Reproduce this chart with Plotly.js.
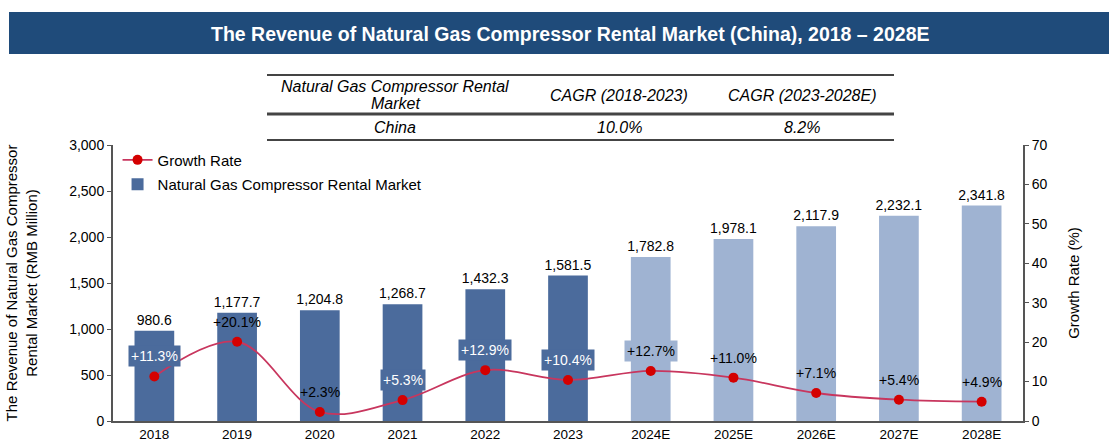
<!DOCTYPE html>
<html>
<head>
<meta charset="utf-8">
<script src="https://cdn.plot.ly/plotly-3.0.1.min.js"></script>
<style>html,body{margin:0;padding:0;background:#fff;}#chart{width:1109px;height:442px;}</style>
</head>
<body>
<div id="chart"></div>
<script>
// ---- data ----
const years = ['2018','2019','2020','2021','2022','2023','2024E','2025E','2026E','2027E','2028E'];
const revenue = [980.6, 1177.7, 1204.8, 1268.7, 1432.3, 1581.5, 1782.8, 1978.1, 2117.9, 2232.1, 2341.8];
const growth = [11.3, 20.1, 2.3, 5.3, 12.9, 10.4, 12.7, 11.0, 7.1, 5.4, 4.9];
const tableHeaderLine1 = ['Natural Gas Compressor Rental', 'CAGR (2018-2023)', 'CAGR (2023-2028E)'];
const tableHeaderLine2 = ['Market', '', ''];
const tableRow = ['China', '10.0%', '8.2%'];

// ---- style ----
const actualCount = 6;
const darkBar = '#4b6b9c', lightBar = '#9fb3d2';
const boxed = {'2018':darkBar,'2021':darkBar,'2022':darkBar,'2023':darkBar,'2024E':lightBar};
const font = 'Arial, "Liberation Sans", sans-serif';
const L=113, R=1023, T=145, B=421;
const px = x => (x-L)/(R-L);
const py = y => (B-y)/(B-T);

const barColors = years.map((y,i)=> i<actualCount ? darkBar : lightBar);
const idx = years.map((y,i)=>i);

const traces = [
  {
    type:'scatter', mode:'lines+markers', name:'Growth Rate', legendgroup:'g1',
    x: idx, y: growth, yaxis:'y2',
    line:{color:'#c8365e', width:1.8, shape:'spline', smoothing:1},
    marker:{color:'#d40000', size:10},
    hoverinfo:'skip'
  },
  {
    type:'bar', name:'Natural Gas Compressor Rental Market', legendgroup:'g2',
    x: idx, y: revenue,
    marker:{color:barColors},
    width:0.48,
    texttemplate:'%{y:,.1f}', textposition:'outside', constraintext:'none',
    textfont:{family:font, size:14, color:'#000'},
    cliponaxis:false,
    hoverinfo:'skip'
  }
];

const annotations = [];
// growth labels
years.forEach((yr,i)=>{
  const bg = boxed[yr];
  annotations.push({
    x: i, y: growth[i], xref:'x', yref:'y2', xanchor:'center', yanchor:'middle',
    text: '+' + growth[i].toFixed(1) + '%',
    showarrow:false, yshift:20,
    font:{family:font, size:14, color: bg===darkBar ? '#fff' : '#000'},
    bgcolor: bg || 'rgba(0,0,0,0)', borderpad:2
  });
});
// title bar text
annotations.push({
  x: px(570), y: py(34), xref:'paper', yref:'paper', xanchor:'center', yanchor:'middle', showarrow:false,
  text:'<b>The Revenue of Natural Gas Compressor Rental Market (China), 2018 – 2028E</b>',
  font:{family:'Arial, "Liberation Sans", sans-serif', size:19.5, color:'#fff'}
});
// table text
const colX = [395, 619, 802];
const tAnn = (x, y, t) => annotations.push({x:px(x), y:py(y), xref:'paper', yref:'paper',
  xanchor:'center', yanchor:'middle', showarrow:false,
  text:'<i>'+t+'</i>', font:{family:font, size:16, color:'#000'}});
tAnn(colX[0], 87, tableHeaderLine1[0]);
tAnn(colX[0], 103, tableHeaderLine2[0]);
tAnn(colX[1], 95, tableHeaderLine1[1]);
tAnn(colX[2], 95, tableHeaderLine1[2]);
tableRow.forEach((t,i)=> tAnn(colX[i], 128, t));

const shapes = [
  {type:'rect', xref:'paper', yref:'paper', x0:px(9), x1:px(1109), y0:py(54), y1:py(12),
   fillcolor:'#1f4b7a', line:{width:0}, layer:'below'},
  {type:'line', xref:'paper', yref:'paper', x0:px(267), x1:px(894), y0:py(75), y1:py(75), line:{color:'#444', width:2}},
  {type:'line', xref:'paper', yref:'paper', x0:px(267), x1:px(894), y0:py(114), y1:py(114), line:{color:'#444', width:3}},
  {type:'line', xref:'paper', yref:'paper', x0:px(267), x1:px(894), y0:py(140), y1:py(140), line:{color:'#444', width:2}}
];

const layout = {
  width:1109, height:442,
  margin:{l:L, r:1109-R, t:T, b:442-B, pad:0},
  paper_bgcolor:'#fff', plot_bgcolor:'#fff',
  showlegend:true,
  legend:{x:0.005, y:1.005, xanchor:'left', yanchor:'top', bgcolor:'rgba(0,0,0,0)',
    font:{family:font, size:15, color:'#000'}, tracegroupgap:2, itemwidth:30},
  xaxis:{type:'linear', range:[-0.5,10.5], tickvals:idx, ticktext:years, showline:true, linecolor:'#555', linewidth:2,
    ticks:'', tickfont:{family:font, size:13.5, color:'#000'}, showgrid:false, zeroline:false, fixedrange:true},
  yaxis:{range:[0,3000], dtick:500, tickformat:',d', showline:true, linecolor:'#555', linewidth:2,
    ticks:'outside', ticklen:4, tickcolor:'#555', tickfont:{family:font, size:14, color:'#000'},
    showgrid:false, zeroline:false,
    title:{text:'The Revenue of Natural Gas Compressor<br>Rental Market (RMB Million)', font:{family:font, size:15, color:'#000'}, standoff:28}},
  yaxis2:{range:[0,70], dtick:10, overlaying:'y', side:'right', showline:true, linecolor:'#555', linewidth:2,
    ticks:'outside', ticklen:4, tickcolor:'#555', tickfont:{family:font, size:14, color:'#000'},
    showgrid:false, zeroline:false,
    title:{text:'Growth Rate (%)', font:{family:font, size:15, color:'#000'}, standoff:22}},
  annotations: annotations,
  shapes: shapes
};

Plotly.newPlot('chart', traces, layout, {displayModeBar:false, staticPlot:true});
</script>
</body>
</html>
